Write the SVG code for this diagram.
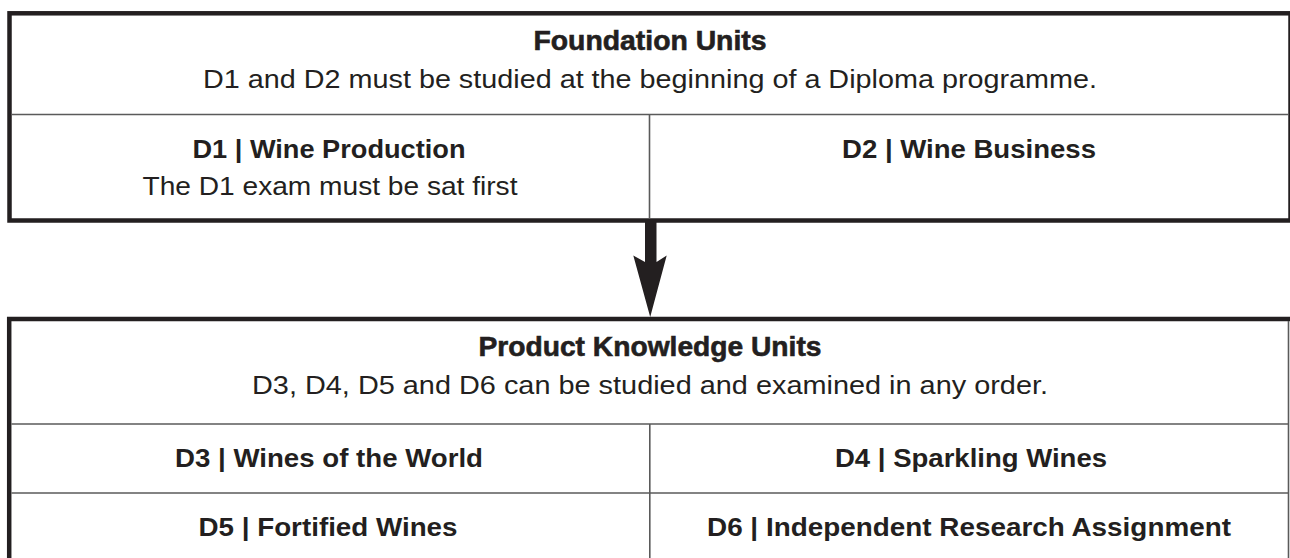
<svg xmlns="http://www.w3.org/2000/svg" width="1290" height="558" viewBox="0 0 1290 558">
<style>
  text { font-family: "Liberation Sans", Arial, sans-serif; fill: #231f20; text-anchor: middle; }
  .title { font-size: 28px; font-weight: bold; stroke: #231f20; stroke-width: 0.6; }
  .sub { font-size: 25px; }
  .lbl { font-size: 25px; font-weight: bold; }
  .thick { fill: none; stroke: #231f20; stroke-width: 4.5; }
  .thin { fill: none; stroke: #5a5a5a; stroke-width: 1.6; }
</style>
<rect width="1290" height="558" fill="#ffffff"/>

<g id="foundation">
  <rect class="thick" x="9.5" y="13.3" width="1281" height="207.2"/>
  <line class="thin" x1="11.8" y1="114.5" x2="1288" y2="114.5"/>
  <line class="thin" x1="649.5" y1="114.5" x2="649.5" y2="218.3"/>
  <text class="title" x="650" y="50" textLength="233" lengthAdjust="spacingAndGlyphs">Foundation Units</text>
  <text class="sub" x="650" y="88" textLength="894" lengthAdjust="spacingAndGlyphs">D1 and D2 must be studied at the beginning of a Diploma programme.</text>
</g>

<g id="d1">
  <text class="lbl" x="329" y="158" textLength="273" lengthAdjust="spacingAndGlyphs">D1 | Wine Production</text>
  <text class="sub" x="330" y="195" textLength="375" lengthAdjust="spacingAndGlyphs">The D1 exam must be sat first</text>
</g>

<g id="d2">
  <text class="lbl" x="969" y="158" textLength="254" lengthAdjust="spacingAndGlyphs">D2 | Wine Business</text>
</g>

<g id="connectors">
  <polygon fill="#231f20" points="645,222 656.5,222 656.5,262 666.7,255.5 650.2,317 633.3,255.5 645,262"/>
</g>

<g id="product-knowledge">
  <line class="thick" x1="7" y1="319" x2="1290" y2="319"/>
  <line class="thick" x1="9.2" y1="317" x2="9.2" y2="558"/>
  <line class="thin" x1="1288.5" y1="321" x2="1288.5" y2="558"/>
  <line class="thin" x1="11.4" y1="424" x2="1288" y2="424"/>
  <line class="thin" x1="11.4" y1="493" x2="1288" y2="493"/>
  <line class="thin" x1="649.8" y1="424" x2="649.8" y2="558"/>
  <text class="title" x="650" y="356" textLength="343" lengthAdjust="spacingAndGlyphs">Product Knowledge Units</text>
  <text class="sub" x="650" y="394" textLength="796" lengthAdjust="spacingAndGlyphs">D3, D4, D5 and D6 can be studied and examined in any order.</text>
</g>

<g id="d3">
  <text class="lbl" x="329" y="467" textLength="308" lengthAdjust="spacingAndGlyphs">D3 | Wines of the World</text>
</g>
<g id="d4">
  <text class="lbl" x="971" y="467" textLength="272" lengthAdjust="spacingAndGlyphs">D4 | Sparkling Wines</text>
</g>
<g id="d5">
  <text class="lbl" x="328" y="536" textLength="259" lengthAdjust="spacingAndGlyphs">D5 | Fortified Wines</text>
</g>
<g id="d6">
  <text class="lbl" x="969" y="536" textLength="524" lengthAdjust="spacingAndGlyphs">D6 | Independent Research Assignment</text>
</g>
</svg>
